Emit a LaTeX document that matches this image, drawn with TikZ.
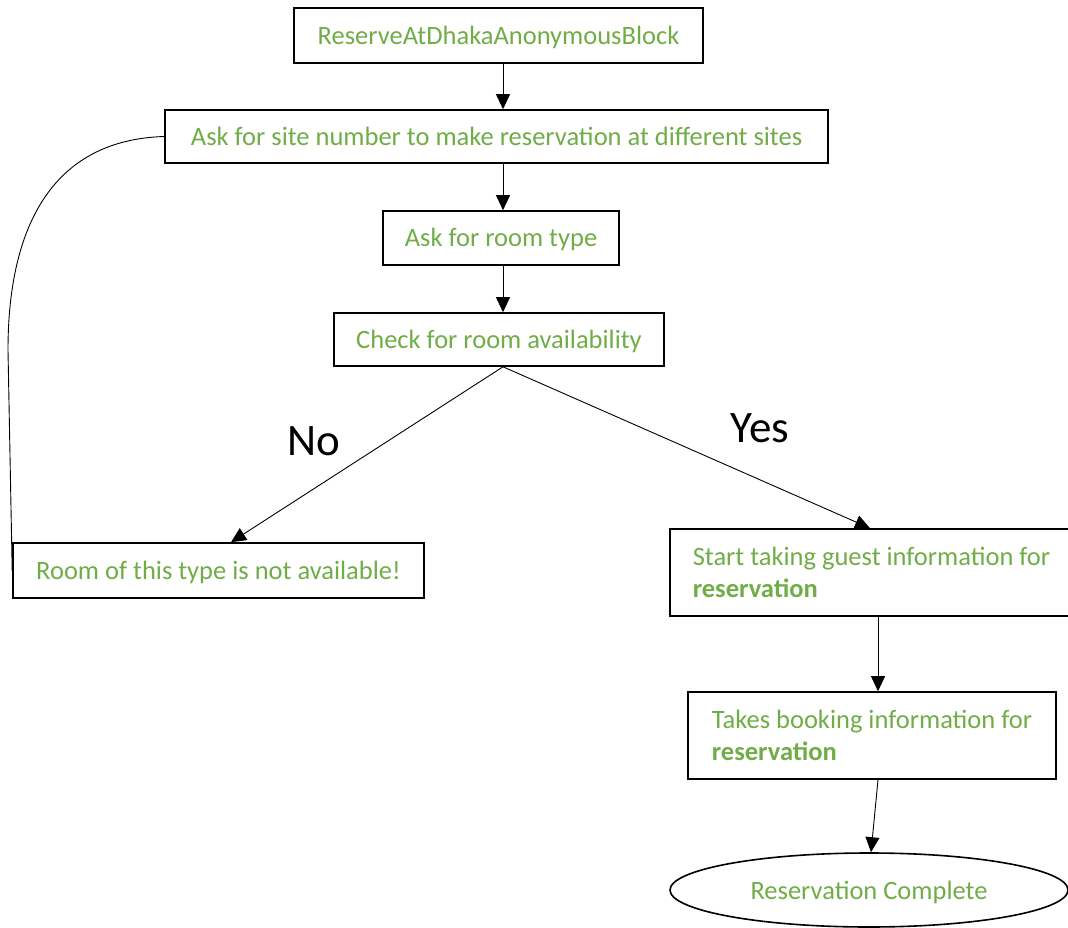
\documentclass[tikz,border=0pt]{standalone}
\usepackage{fontspec}
\setmainfont{Carlito}
\usetikzlibrary{arrows.meta,shapes.geometric}
\definecolor{stepgreen}{HTML}{70AD47}
\tikzset{
  stepbox/.style={draw=black, line width=1.6pt, rectangle, text=stepgreen,
    font=\fontsize{26.5}{32}\selectfont, inner sep=0pt, text height=20pt, text depth=2pt},
  infobox/.style={draw=black, line width=1.6pt, rectangle, text=stepgreen,
    font=\fontsize{26.5}{32}\selectfont, inner sep=0pt, align=left},
  flow/.style={-{Triangle[width=14pt,length=15pt]}, line width=0.9pt},
  answer/.style={font=\fontsize{45}{50}\selectfont}
}
\begin{document}
\begin{tikzpicture}[x=1pt,y=-1pt]
\clip (0,0) rectangle (1068,928);
\node[stepbox, minimum width=409pt, minimum height=55pt] (start) at (498.5,35.5) {ReserveAtDhakaAnonymousBlock};
\node[stepbox, minimum width=663pt, minimum height=53pt] (site) at (496.5,136.5) {Ask for site number to make reservation at different sites};
\node[stepbox, minimum width=236pt, minimum height=54pt] (roomtype) at (501,238) {Ask for room type};
\node[stepbox, minimum width=330pt, minimum height=53pt] (check) at (499,339.5) {Check for room availability};
\node[stepbox, minimum width=411pt, minimum height=55pt] (noroom) at (218.5,570.5) {Room of this type is not available!};
\node[infobox, minimum width=403pt, minimum height=87pt] (guest) at (871.5,572.5) {Start taking guest information for\\\textbf{reservation}};
\node[infobox, minimum width=368pt, minimum height=87pt] (booking) at (872,735.5) {Takes booking information for\\\textbf{reservation}};
\node[stepbox, ellipse, minimum width=398pt, minimum height=74pt] (done) at (869,890) {Reservation Complete};
\coordinate (bend) at (8,350);
\draw[flow] (start.south -| 503,0) -- (site.north -| 503,0);
\draw[flow] (site.south -| 503,0) -- (roomtype.north -| 503,0);
\draw[flow] (roomtype.south -| 503,0) -- (check.north -| 503,0);
\draw[flow] (check.south -| 503,0) -- (noroom.north -| 231,0);
\draw[flow] (check.south -| 503,0) -- (guest.north -| 870,0);
\draw[flow] (guest.south -| 878,0) -- (booking.north -| 878,0);
\draw[flow] (booking.south -| 878,0) -- (done.north -| 871,0);
\draw[line width=0.9pt] (site.west) .. controls (50,140) and (8,230) .. (bend) -- (noroom.west);
\node[answer] (no) at (314,441) {No};
\node[answer] (yes) at (760,428) {Yes};
\end{tikzpicture}
\end{document}
